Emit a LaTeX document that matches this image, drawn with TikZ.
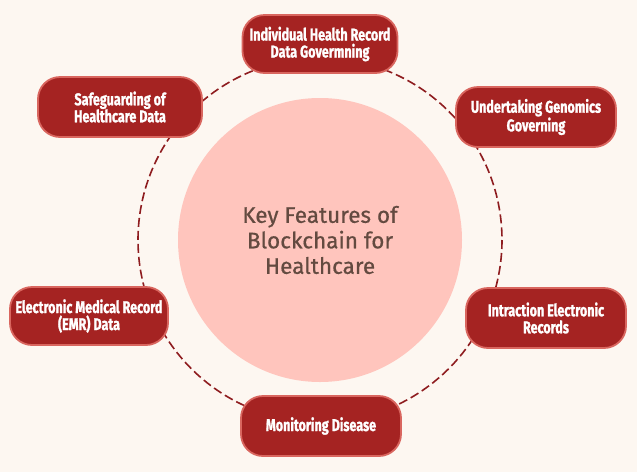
\documentclass[tikz,border=0pt]{standalone}
\usepackage{fontspec}
\setmainfont{Fira Sans}
\newfontfamily\condfont[FakeStretch=0.74, FakeBold=1.2]{Fira Sans}
\newfontfamily\hubfont[FakeBold=0.6]{Fira Sans}
\usepackage{tikz}
\usetikzlibrary{positioning}

\definecolor{bgcream}{HTML}{FDF7F1}
\definecolor{hubpink}{HTML}{FFC5BD}
\definecolor{boxred}{HTML}{A52322}
\definecolor{boxrim}{HTML}{D9665F}
\definecolor{ringred}{HTML}{8E1C1F}
\definecolor{hubtext}{HTML}{634A40}

\begin{document}
\begin{tikzpicture}[
            x=1pt, y=-1pt,
            feature/.style={
                    rectangle, rounded corners=22pt,
                    draw=boxrim, line width=1.8pt, fill=boxred,
                    minimum width=160pt, minimum height=60pt,
                    align=center, text=white,
                    font=\condfont\bfseries\fontsize{17}{17}\selectfont
                },
            hubnode/.style={
                    circle, fill=hubpink, minimum size=284pt,
                    align=center, text=hubtext,
                    font=\hubfont\fontsize{22.5}{25.5}\selectfont
                },
            ring/.style={draw=ringred, line width=1.6pt, dash pattern=on 9pt off 4pt}
        ]
        \fill[bgcream] (0,0) rectangle (637,472);
        \useasboundingbox (0,0) rectangle (637,472);

        \node[hubnode] (hub) at (320,240) {Key Features of\\Blockchain for\\Healthcare};

        % dashed ring behind the boxes
        \draw[ring] (hub.center) circle (182);

        \node[feature, minimum width=155pt, minimum height=58pt] (f1) at (320,44) {Individual Health Record\\Data Govermning};
        \node[feature] (f2) at (536,117) {Undertaking Genomics\\Governing};
        \node[feature] (f3) at (546,318) {Intraction Electronic\\Records};
        \node[feature] (f4) at (321,426) {Monitoring Disease};
        \node[feature, minimum width=158pt, minimum height=58pt] (f5) at (89,316) {Electronic Medical Record\\(EMR) Data};
        \node[feature, minimum width=164pt] (f6) at (120,107) {Safeguarding of\\Healthcare Data};
    \end{tikzpicture}
\end{document}
